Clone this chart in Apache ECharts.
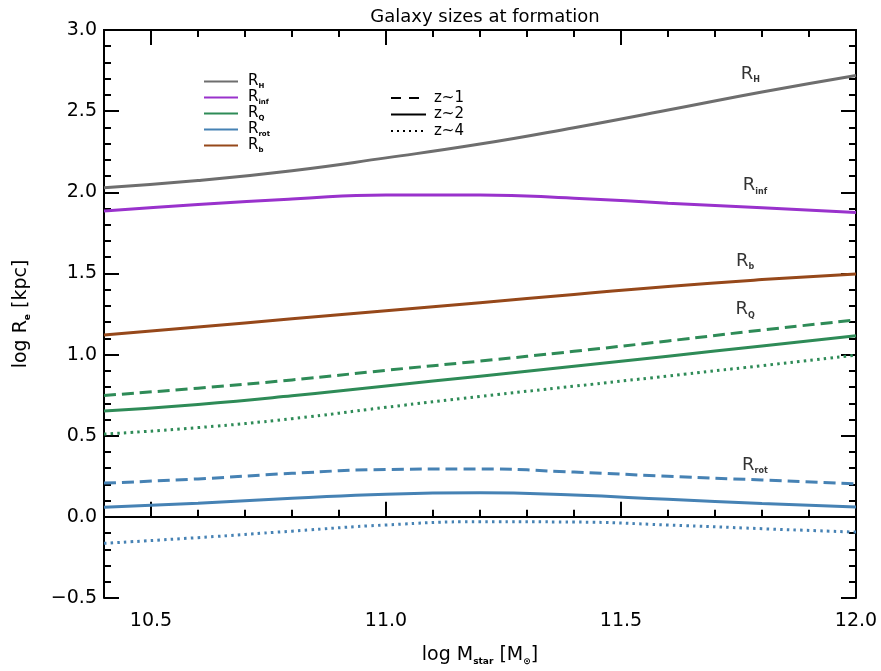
<!DOCTYPE html>
<html><head><meta charset="utf-8">
<script src="https://cdn.jsdelivr.net/npm/echarts@6/dist/echarts.min.js"></script>
<style>html,body{margin:0;padding:0;background:#fff}#c{width:881px;height:671px}</style>
</head><body><div id="c"></div>
<script>
// log M_star grid
const massGrid = [10.4, 10.6, 10.8, 11.0, 11.2, 11.4, 11.6, 11.8, 12.0];
// log R_e [kpc]
const rH     = [2.028, 2.072, 2.133, 2.212, 2.297, 2.398, 2.507, 2.618, 2.720];
const rInf   = [1.884, 1.925, 1.958, 1.984, 1.984, 1.964, 1.933, 1.905, 1.876];
const rB     = [1.120, 1.170, 1.220, 1.270, 1.320, 1.370, 1.420, 1.462, 1.497];
const rQz1   = [0.748, 0.793, 0.844, 0.903, 0.960, 1.020, 1.084, 1.151, 1.213];
const rQz2   = [0.652, 0.693, 0.746, 0.807, 0.867, 0.928, 0.990, 1.053, 1.116];
const rQz4   = [0.510, 0.550, 0.605, 0.675, 0.742, 0.805, 0.868, 0.932, 0.997];
const rRotZ1 = [0.208, 0.234, 0.268, 0.292, 0.295, 0.276, 0.250, 0.227, 0.204];
const rRotZ2 = [0.059, 0.084, 0.114, 0.140, 0.148, 0.134, 0.108, 0.083, 0.061];
const rRotZ4 = [-0.163, -0.128, -0.088, -0.050, -0.030, -0.032, -0.050, -0.073, -0.094];
const xMajorTicks = [10.5, 11.0, 11.5, 12.0];
const quantityNames = ['H', 'inf', 'Q', 'rot', 'b'];
const redshiftNames = ['z~1', 'z~2', 'z~4'];
// inline curve labels: [x, y, subscript]
const curveLabels = [[11.775, 2.727, 'H'], [11.785, 2.04, 'inf'], [11.764, 1.576, 'b'], [11.764, 1.276, 'Q'], [11.785, 0.32, 'rot']];

const colors = {H: '#6e6e6e', inf: '#9932cc', Q: '#2e8b57', rot: '#4682b4', b: '#96481a'};
const dashT = [12, 6], dotT = [2.5, 4.2];
const FONT = 'DejaVu Sans';

function pts(arr) { return massGrid.map((x, i) => [x, arr[i]]); }
function curve(name, arr, color, type) {
  return {name: name, type: 'line', data: pts(arr), smooth: 0.5, symbol: 'none',
    xAxisIndex: 0, yAxisIndex: 0, z: 3,
    lineStyle: {color: color, width: 3, type: type, cap: 'butt'}};
}
const series = [
  curve('cH', rH, colors.H, 'solid'),
  curve('cInf', rInf, colors.inf, 'solid'),
  curve('cB', rB, colors.b, 'solid'),
  curve('cQ1', rQz1, colors.Q, dashT),
  curve('cQ2', rQz2, colors.Q, 'solid'),
  curve('cQ4', rQz4, colors.Q, dotT),
  curve('cR1', rRotZ1, colors.rot, dashT),
  curve('cR2', rRotZ2, colors.rot, 'solid'),
  curve('cR4', rRotZ4, colors.rot, dotT),
];
quantityNames.forEach(n => series.push({name: n, type: 'line', data: [], symbol: 'none',
  lineStyle: {color: colors[n], width: 2}, itemStyle: {color: colors[n]}}));
const zTypes = {'z~1': [10, 8], 'z~2': 'solid', 'z~4': [2, 4]};
redshiftNames.forEach(n => series.push({name: n, type: 'line', data: [], symbol: 'none',
  lineStyle: {color: '#000', width: 2, type: zTypes[n]}, itemStyle: {color: '#000'}}));
series.push({type: 'scatter', name: 'labels', data: curveLabels, symbolSize: 2,
  itemStyle: {color: 'rgba(0,0,0,0)'}, xAxisIndex: 0, yAxisIndex: 0, silent: true, z: 5,
  label: {show: true, position: 'inside', formatter: p => '{r|R}{s|' + p.value[2] + '}',
    rich: {r: {fontFamily: FONT, fontSize: 18, color: '#000', lineHeight: 20, verticalAlign: 'middle'},
           s: {fontFamily: FONT, fontSize: 8, fontWeight: 'bold', color: '#000', lineHeight: 20, verticalAlign: 'bottom'}}}});

const axLine = {show: true, lineStyle: {color: '#000', width: 2}};
function xAx(pos, major, showLabel) {
  return {type: 'value', position: pos, min: 10.4, max: 12.0, interval: 0.1,
    axisLine: axLine, splitLine: {show: false},
    axisTick: major ? {show: true, inside: true, length: 15, customValues: xMajorTicks, lineStyle: {color: '#000', width: 2}}
                    : {show: true, inside: true, length: 7, lineStyle: {color: '#000', width: 2}},
    axisLabel: showLabel ? {show: true, customValues: xMajorTicks, margin: 14, color: '#000', fontFamily: FONT, fontSize: 19,
      formatter: v => v.toFixed(1)} : {show: false},
    name: showLabel ? 'log M{s|star} [M{s|\u2299}]' : '', nameLocation: 'middle', nameGap: 46,
    nameTextStyle: {fontFamily: FONT, fontSize: 19, color: '#000',
      rich: {s: {fontFamily: FONT, fontSize: 9, fontWeight: 'bold', color: '#000', verticalAlign: 'bottom', lineHeight: 22}}}};
}
function yAx(pos, showLabel) {
  return {type: 'value', position: pos, min: -0.5, max: 3.0, interval: 0.5,
    axisLine: axLine, splitLine: {show: false},
    axisTick: {show: true, inside: true, length: 15, lineStyle: {color: '#000', width: 2}},
    minorTick: {show: true, splitNumber: 5, length: 7, lineStyle: {color: '#000', width: 2}},
    axisLabel: showLabel ? {show: true, margin: 7, color: '#000', fontFamily: FONT, fontSize: 19,
      formatter: v => (v < 0 ? '\u2212' + Math.abs(v).toFixed(1) : v.toFixed(1))} : {show: false},
    name: showLabel ? 'log R{s|e} [kpc]' : '', nameLocation: 'middle', nameGap: 72, nameRotate: 90,
    nameTextStyle: {fontFamily: FONT, fontSize: 19, color: '#000',
      rich: {s: {fontFamily: FONT, fontSize: 9, fontWeight: 'bold', color: '#000', verticalAlign: 'bottom', lineHeight: 22}}}};
}

const chart = echarts.init(document.getElementById('c'), null, {renderer: 'canvas'});
chart.setOption({
  animation: false,
  backgroundColor: '#fff',
  title: {text: 'Galaxy sizes at formation', left: 480, top: 3, textAlign: 'center',
    textStyle: {fontFamily: FONT, fontSize: 18, fontWeight: 'normal', color: '#000'}},
  grid: {left: 104, right: 25, top: 30, bottom: 69, containLabel: false},
  xAxis: [xAx('bottom', false, false), xAx('bottom', true, true), xAx('top', false, false), xAx('top', true, false)],
  yAxis: [yAx('left', true), yAx('right', false)],
  legend: [
    {data: quantityNames, orient: 'vertical', left: 198, top: 69, itemWidth: 34, itemHeight: 8, itemGap: 0.5,
      selectedMode: false, itemStyle: {opacity: 0},
      formatter: n => '{r|R}{s|' + n + '}',
      textStyle: {rich: {r: {fontFamily: FONT, fontSize: 15, color: '#000', lineHeight: 16, padding: [0, 0, 0, 5]},
        s: {fontFamily: FONT, fontSize: 7, fontWeight: 'bold', color: '#000', lineHeight: 16, verticalAlign: 'bottom'}}}},
    {data: redshiftNames, orient: 'vertical', left: 385, top: 85, itemWidth: 35, itemHeight: 8, itemGap: 0.5,
      selectedMode: false, itemStyle: {opacity: 0},
      textStyle: {fontFamily: FONT, fontSize: 15, color: '#000', lineHeight: 16, padding: [0, 0, 0, 3]}}
  ],
  series: series
});
</script></body></html>
